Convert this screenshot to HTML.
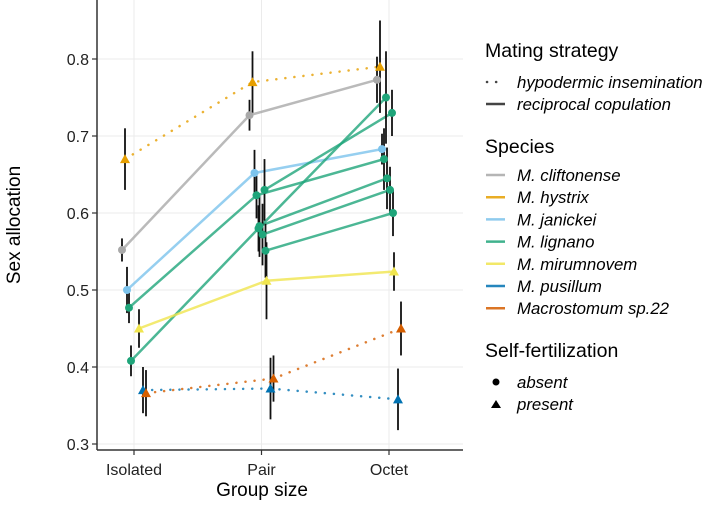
<!DOCTYPE html>
<html><head><meta charset="utf-8"><style>
body{margin:0;background:#fff;}
svg{font-family:"Liberation Sans",sans-serif;}
</style></head><body>
<svg id="c" width="709" height="502"></svg>
<script>
const categories=["Isolated","Pair","Octet"];
const yTicks=[0.3,0.4,0.5,0.6,0.7,0.8];
const seriesNames=["cliftonense","hystrix","janickei","lignano-1","lignano-2","lignano-3","lignano-4","lignano-5","lignano-6","mirumnovem","pusillum","sp22"];
const seriesValues=[
 [0.552,0.727,0.773],
 [0.670,0.770,0.790],
 [0.500,0.652,0.683],
 [0.477,0.623,0.670],
 [0.408,0.580,0.750],
 [null,0.630,0.730],
 [null,0.583,0.645],
 [null,0.572,0.630],
 [null,0.551,0.600],
 [0.450,0.512,0.524],
 [0.370,0.372,0.358],
 [0.366,0.385,0.450]];
const seriesErr=[
 [0.015,0.02,0.03],[0.04,0.04,0.06],[0.03,0.03,0.02],[0.02,0.03,0.04],[0.02,0.03,0.06],[null,0.04,0.03],[null,0.04,0.04],[null,0.04,0.03],[null,0.035,0.03],[0.025,0.05,0.025],[0.03,0.04,0.04],[0.03,0.03,0.035]];
const seriesColors=["#a9a9a9","#E69F00","#7cc3ec","#1fa57a","#1fa57a","#1fa57a","#1fa57a","#1fa57a","#1fa57a","#f0e54e","#0072B2","#D55E00"];
const seriesShapes=["c","t","c","c","c","c","c","c","c","t","t","t"];
const seriesDotted=[0,1,0,0,0,0,0,0,0,0,1,1];
const seriesDodge=[-12,-9,-7,-5,-3,3,-2,1,4,5,9,12];
const legendSpecies=["M. cliftonense","M. hystrix","M. janickei","M. lignano","M. mirumnovem","M. pusillum","Macrostomum sp.22"];
const legendSpeciesColors=["#a9a9a9","#E69F00","#7cc3ec","#1fa57a","#f0e54e","#0072B2","#D55E00"];

const L=97,R=463,T=0,B=450;
const xPos=i=>134+i*127.5;
const y=v=>59+(0.8-v)*770;
const svg=document.getElementById('c');
const NS="http://www.w3.org/2000/svg";
function mk(t,a,p){const e=document.createElementNS(NS,t);for(const k in a)e.setAttribute(k,a[k]);(p||svg).appendChild(e);return e;}

yTicks.forEach(v=>{const g=mk('line',{x1:L,x2:R,y1:y(v),y2:y(v),stroke:'#ebebeb','stroke-width':1});

const t=mk('text',{x:89,y:y(v)+6,'text-anchor':'end','font-size':16,fill:'#222'});t.textContent=v.toFixed(1);
});
categories.forEach((c,i)=>{const g=mk('line',{x1:xPos(i),x2:xPos(i),y1:T,y2:B,stroke:'#ebebeb','stroke-width':1});

const tk=mk('line',{x1:xPos(i),x2:xPos(i),y1:B,y2:B+5,stroke:'#333','stroke-width':1.2});

const t=mk('text',{x:xPos(i),y:475,'text-anchor':'middle','font-size':16,fill:'#222'});t.textContent=c;
});
yTicks.forEach(v=>{const tk=mk('line',{x1:L-5,x2:L,y1:y(v),y2:y(v),stroke:'#333','stroke-width':1.2});
});
const ax=mk('line',{x1:L,x2:L,y1:T,y2:B,stroke:'#333','stroke-width':1.5});

const ax2=mk('line',{x1:L,x2:R,y1:B,y2:B,stroke:'#333','stroke-width':1.5});


seriesValues.forEach((vals,s)=>{let pts=[];vals.forEach((v,i)=>{if(v!==null)pts.push((xPos(i)+seriesDodge[s])+','+y(v));});
const pl=mk('polyline',{points:pts.join(' '),fill:'none',stroke:seriesColors[s],'stroke-width':2.5,opacity:0.8,'stroke-linecap':'round'});
if(seriesDotted[s])pl.setAttribute('stroke-dasharray','0.1 9');
});
seriesValues.forEach((vals,s)=>{vals.forEach((v,i)=>{if(v===null)return;const e=seriesErr[s][i];const x=xPos(i)+seriesDodge[s];
const l=mk('line',{x1:x,x2:x,y1:y(v+e),y2:y(v-e),stroke:'#111','stroke-width':1.8});
});});
seriesValues.forEach((vals,s)=>{vals.forEach((v,i)=>{if(v===null)return;const x=xPos(i)+seriesDodge[s],yy=y(v);let p;
if(seriesShapes[s]==='c')p=mk('circle',{cx:x,cy:yy,r:4,fill:seriesColors[s]});
else p=mk('polygon',{points:`${x},${yy-5} ${x-5},${yy+4} ${x+5},${yy+4}`,fill:seriesColors[s]});
});});

let t=mk('text',{x:262,y:496,'text-anchor':'middle','font-size':19,fill:'#000'});t.textContent='Group size';

t=mk('text',{x:0,y:0,'text-anchor':'middle','font-size':19,fill:'#000',transform:'translate(20,225) rotate(-90)'});t.textContent='Sex allocation';


function title(txt,yy,n){const e=mk('text',{x:485,y:yy,'font-size':19.5,fill:'#000'});e.textContent=txt;}
function label(txt,yy){const e=mk('text',{x:517,y:yy,'font-size':16.8,'font-style':'italic',fill:'#000'});e.textContent=txt;}
title('Mating strategy',57,'legend-title-mating');
let k=mk('line',{x1:487,x2:505,y1:82,y2:82,stroke:'#444','stroke-width':2.5,'stroke-dasharray':'0.1 9','stroke-linecap':'round'});
label('hypodermic insemination',88);
k=mk('line',{x1:486,x2:505,y1:104,y2:104,stroke:'#444','stroke-width':2.5});
label('reciprocal copulation',110);
title('Species',153,'legend-title-species');
legendSpecies.forEach((n,i)=>{const yy=175+i*22.2;const kk=mk('line',{x1:486,x2:505,y1:yy,y2:yy,stroke:legendSpeciesColors[i],'stroke-width':2.5,opacity:0.85});
label(n,yy+6);});
title('Self-fertilization',357,'legend-title-selffert');
k=mk('circle',{cx:496,cy:382,r:3.5,fill:'#000'});
label('absent',388);
k=mk('polygon',{points:'496,400 491,408 501,408',fill:'#000'});
label('present',410);
</script>
</body></html>
